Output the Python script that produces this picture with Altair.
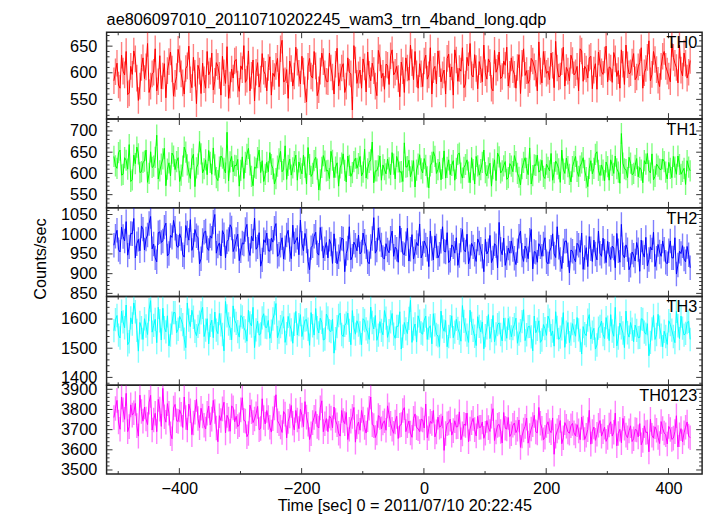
import altair as alt
import pandas as pd

# ---------------- data ----------------
T_START_A = -507.0   # sec, first bin of the "a" samples
T_START_B = -504.5   # sec, first bin of the "b" samples (interleaved)
T_STEP = 5.0         # sec between samples of one array

bands = ["TH0", "TH1", "TH2", "TH3", "TH0123"]
colors = ["#ff0000", "#00ff00", "#0000ff", "#00ffff", "#ff00ff"]
errors = [25, 25, 31, 40, 61]  # typical 1-sigma error (counts/sec)

th0_a = [585, 618, 571, 603, 640, 562, 597, 626, 548, 610,
         589, 655, 575, 601, 566, 632, 594, 553, 621, 607,
         580, 644, 598, 560, 613, 587, 629, 542, 603, 618,
         571, 596, 637, 584, 612, 558, 600, 649, 577, 590,
         625, 565, 606, 582, 641, 595, 547, 619, 588, 603,
         566, 630, 599, 612, 574, 661, 585, 552, 608, 594,
         620, 579, 603, 545, 627, 590, 613, 568, 637, 598,
         583, 609, 560, 646, 592, 617, 575, 601, 530, 624,
         596, 571, 611, 639, 585, 604, 557, 628, 599, 616,
         578, 643, 601, 589, 620, 563, 609, 652, 587, 598,
         617, 574, 633, 596, 560, 612, 641, 583, 605, 627,
         592, 558, 624, 608, 647, 579, 613, 596, 634, 570,
         606, 652, 588, 619, 566, 601, 639, 593, 614, 575,
         628, 597, 610, 561, 645, 604, 587, 622, 599, 658,
         581, 616, 603, 637, 572, 609, 594, 648, 610, 585,
         623, 600, 566, 641, 612, 590, 631, 605, 569, 618,
         597, 650, 611, 582, 626, 604, 643, 578, 615, 600,
         636, 592, 619, 571, 608, 660, 597, 625, 586, 612,
         640, 603, 583, 629, 610, 652, 594, 618, 601]
th0_b = [602, 577, 633, 596, 559, 612, 641, 590, 575, 628,
         611, 563, 598, 645, 583, 570, 617, 604, 639, 556,
         593, 626, 581, 608, 650, 572, 599, 614, 561, 587,
         640, 603, 568, 619, 595, 631, 580, 552, 607, 622,
         579, 613, 651, 588, 566, 624, 601, 573, 636, 597,
         610, 558, 593, 627, 645, 583, 606, 622, 575, 648,
         599, 631, 568, 612, 594, 640, 557, 603, 621, 584,
         637, 592, 616, 575, 609, 563, 628, 598, 651, 580,
         605, 626, 564, 597, 618, 575, 642, 590, 569, 614,
         632, 596, 612, 555, 604, 628, 586, 619, 640, 571,
         598, 622, 588, 647, 606, 579, 617, 596, 560, 635,
         611, 643, 584, 603, 572, 629, 655, 592, 608, 621,
         583, 600, 626, 571, 642, 609, 589, 622, 648, 597,
         606, 571, 634, 618, 595, 580, 627, 611, 566, 603,
         640, 599, 587, 614, 659, 592, 621, 575, 603, 633,
         596, 612, 645, 584, 607, 628, 570, 617, 639, 602,
         624, 583, 609, 638, 593, 571, 616, 652, 598, 620,
         587, 611, 647, 600, 629, 585, 640, 606, 574, 631,
         612, 594, 655, 618, 581, 605, 637, 590, 623]

th1_a = [640, 612, 655, 598, 631, 668, 585, 623, 646, 604,
         629, 579, 651, 617, 690, 606, 634, 571, 625, 648,
         609, 637, 596, 662, 620, 588, 645, 613, 675, 601,
         632, 654, 598, 620, 583, 641, 612, 697, 627, 604,
         618, 570, 639, 626, 659, 593, 615, 637, 602, 581,
         626, 649, 611, 588, 634, 604, 665, 619, 596, 628,
         584, 612, 643, 575, 621, 600, 638, 561, 614, 629,
         607, 652, 590, 625, 613, 646, 580, 619, 602, 636,
         623, 594, 657, 611, 632, 578, 606, 641, 620, 599,
         613, 649, 587, 627, 604, 672, 616, 592, 630, 608,
         644, 601, 619, 566, 626, 640, 609, 585, 653, 614,
         597, 630, 612, 648, 589, 621, 603, 637, 575, 618,
         609, 655, 594, 624, 611, 583, 639, 606, 628, 590,
         617, 642, 600, 573, 626, 612, 660, 595, 619, 603,
         631, 588, 614, 647, 602, 622, 579, 610, 636, 598,
         616, 640, 593, 625, 607, 569, 630, 612, 651, 595,
         608, 627, 584, 619, 641, 603, 694, 611, 590, 624,
         600, 635, 614, 578, 622, 606, 646, 593, 617, 609,
         628, 587, 612, 640, 598, 621, 605, 574, 615]
th1_b = [618, 649, 596, 637, 610, 581, 643, 662, 602, 626,
         655, 600, 614, 638, 587, 622, 659, 610, 594, 641,
         628, 581, 617, 650, 603, 634, 569, 622, 646, 611,
         597, 626, 660, 590, 615, 636, 601, 582, 640, 619,
         633, 607, 588, 645, 620, 571, 612, 655, 630, 598,
         604, 621, 575, 617, 652, 609, 586, 634, 613, 643,
         627, 599, 614, 661, 593, 630, 610, 585, 642, 606,
         588, 631, 615, 570, 624, 607, 641, 593, 628, 612,
         640, 603, 589, 626, 674, 606, 618, 584, 609, 634,
         597, 622, 640, 603, 581, 615, 631, 606, 568, 622,
         611, 635, 592, 618, 651, 600, 627, 612, 589, 632,
         619, 584, 645, 601, 614, 632, 578, 609, 640, 596,
         626, 602, 613, 570, 632, 648, 601, 618, 586, 623,
         604, 628, 591, 611, 637, 597, 575, 620, 643, 608,
         593, 622, 606, 584, 629, 611, 655, 600, 616, 580,
         628, 605, 617, 637, 590, 612, 599, 645, 607, 620,
         583, 616, 632, 600, 611, 577, 624, 609, 638, 597,
         619, 592, 608, 630, 647, 601, 585, 622, 610, 634,
         603, 626, 590, 615, 641, 598, 612, 630, 606]

th2_a = [972, 1010, 955, 994, 1032, 968, 1001, 940, 987, 1021,
         960, 998, 1045, 975, 930, 1006, 983, 1028, 951, 992,
         1015, 967, 989, 942, 1003, 1037, 972, 996, 925, 984,
         1008, 959, 990, 1050, 970, 945, 999, 981, 1024, 956,
         987, 933, 978, 1012, 962, 995, 1041, 968, 919, 986,
         1003, 957, 980, 1027, 949, 991, 966, 1010, 938, 975,
         992, 1036, 958, 983, 910, 971, 1005, 947, 988, 963,
         940, 975, 1001, 925, 962, 988, 951, 1019, 944, 972,
         998, 955, 982, 930, 969, 1042, 960, 987, 941, 976,
         953, 1008, 967, 929, 985, 948, 1015, 962, 937, 979,
         1026, 951, 973, 918, 964, 996, 940, 982, 957, 1004,
         934, 968, 991, 946, 1012, 955, 925, 977, 949, 988,
         962, 905, 950, 997, 940, 971, 1030, 948, 921, 965,
         983, 939, 958, 1008, 931, 960, 985, 912, 954, 976,
         944, 991, 925, 967, 950, 1019, 936, 958, 983, 902,
         957, 930, 972, 1003, 941, 918, 963, 985, 935, 952,
         990, 928, 949, 970, 915, 958, 1025, 940, 961, 921,
         947, 979, 906, 953, 992, 936, 960, 918, 974, 944,
         962, 925, 983, 940, 899, 957, 971, 930, 948]
th2_b = [995, 961, 1018, 983, 947, 1002, 1040, 976, 958, 1013,
         988, 1027, 963, 940, 1004, 979, 1018, 945, 997, 1035,
         970, 1001, 948, 1022, 985, 959, 1012, 991, 938, 1005,
         965, 996, 1031, 952, 978, 1009, 940, 987, 1016, 969,
         1000, 958, 975, 1025, 946, 983, 962, 1004, 935, 979,
         958, 990, 1015, 944, 972, 937, 998, 961, 1023, 984,
         948, 977, 1002, 931, 966, 995, 953, 1017, 940, 979,
         987, 926, 958, 943, 990, 905, 965, 935, 980, 958,
         950, 1003, 968, 925, 989, 952, 1016, 973, 937, 960,
         990, 944, 962, 1021, 951, 976, 932, 999, 956, 971,
         940, 983, 962, 1008, 935, 970, 949, 1019, 955, 928,
         973, 952, 921, 985, 960, 1000, 943, 968, 931, 978,
         944, 987, 958, 928, 976, 915, 962, 990, 940, 952,
         961, 923, 995, 947, 970, 938, 1012, 956, 929, 968,
         975, 930, 956, 1001, 941, 967, 913, 982, 948, 960,
         939, 977, 954, 911, 966, 994, 931, 950, 1008, 944,
         957, 982, 936, 965, 1002, 929, 948, 973, 910, 955,
         932, 961, 985, 942, 920, 968, 1005, 939, 955, 983,
         929, 958, 940, 991, 922, 951, 937, 969, 915]

th3_a = [1560, 1612, 1535, 1590, 1648, 1522, 1583, 1625, 1490, 1570,
         1601, 1547, 1663, 1578, 1519, 1594, 1637, 1556, 1508, 1586,
         1622, 1565, 1598, 1531, 1655, 1574, 1606, 1543, 1589, 1640,
         1562, 1515, 1596, 1624, 1550, 1580, 1491, 1611, 1568, 1645,
         1585, 1538, 1607, 1559, 1630, 1576, 1502, 1593, 1549, 1618,
         1571, 1534, 1600, 1653, 1555, 1588, 1520, 1609, 1563, 1582,
         1545, 1615, 1569, 1598, 1510, 1577, 1636, 1552, 1589, 1531,
         1604, 1557, 1483, 1574, 1620, 1540, 1586, 1561, 1629, 1548,
         1579, 1512, 1595, 1555, 1641, 1566, 1527, 1591, 1546, 1603,
         1560, 1619, 1534, 1575, 1497, 1588, 1550, 1664, 1566, 1521,
         1593, 1548, 1610, 1569, 1515, 1580, 1542, 1627, 1558, 1505,
         1574, 1536, 1599, 1552, 1646, 1563, 1520, 1585, 1541, 1608,
         1556, 1498, 1570, 1533, 1612, 1549, 1587, 1525, 1564, 1602,
         1539, 1581, 1517, 1560, 1632, 1546, 1575, 1491, 1553, 1594,
         1528, 1567, 1610, 1543, 1507, 1571, 1538, 1622, 1555, 1519,
         1584, 1541, 1563, 1480, 1550, 1596, 1532, 1568, 1511, 1575,
         1547, 1605, 1526, 1559, 1640, 1535, 1570, 1502, 1553, 1588,
         1522, 1561, 1537, 1599, 1548, 1474, 1566, 1530, 1616, 1545,
         1558, 1513, 1581, 1540, 1626, 1533, 1569, 1551, 1592]
th3_b = [1598, 1545, 1627, 1570, 1512, 1604, 1655, 1561, 1588, 1530,
         1576, 1632, 1555, 1599, 1640, 1528, 1570, 1611, 1545, 1622,
         1553, 1609, 1581, 1502, 1596, 1630, 1558, 1575, 1621, 1540,
         1601, 1578, 1536, 1562, 1619, 1547, 1660, 1583, 1529, 1595,
         1557, 1612, 1570, 1524, 1587, 1640, 1563, 1545, 1604, 1572,
         1595, 1558, 1621, 1536, 1574, 1608, 1550, 1580, 1517, 1626,
         1581, 1540, 1596, 1565, 1622, 1545, 1570, 1603, 1528, 1617,
         1560, 1599, 1533, 1612, 1547, 1578, 1620, 1512, 1570, 1594,
         1552, 1601, 1566, 1530, 1588, 1612, 1545, 1561, 1629, 1537,
         1590, 1548, 1575, 1625, 1541, 1566, 1602, 1520, 1583, 1611,
         1552, 1596, 1530, 1577, 1618, 1547, 1506, 1573, 1595, 1540,
         1611, 1555, 1568, 1524, 1592, 1545, 1630, 1561, 1509, 1575,
         1590, 1543, 1615, 1560, 1522, 1581, 1547, 1603, 1534, 1569,
         1567, 1603, 1548, 1591, 1526, 1574, 1539, 1610, 1565, 1520,
         1581, 1544, 1596, 1559, 1625, 1530, 1566, 1503, 1588, 1548,
         1560, 1605, 1527, 1574, 1543, 1615, 1555, 1497, 1569, 1593,
         1533, 1572, 1615, 1541, 1508, 1586, 1552, 1627, 1538, 1565,
         1579, 1536, 1601, 1555, 1584, 1520, 1612, 1547, 1572, 1505,
         1540, 1594, 1562, 1519, 1577, 1610, 1545, 1588, 1530]

th0123_a = [3760, 3845, 3702, 3798, 3880, 3715, 3772, 3830, 3668, 3790,
            3812, 3725, 3870, 3748, 3690, 3802, 3905, 3737, 3781, 3655,
            3825, 3741, 3776, 3862, 3698, 3794, 3733, 3850, 3710, 3768,
            3703, 3817, 3752, 3790, 3640, 3745, 3836, 3771, 3692, 3808,
            3766, 3724, 3858, 3742, 3681, 3789, 3753, 3815, 3706, 3760,
            3795, 3712, 3754, 3873, 3730, 3686, 3777, 3741, 3820, 3699,
            3748, 3801, 3715, 3762, 3651, 3735, 3790, 3708, 3843, 3729,
            3690, 3757, 3812, 3724, 3668, 3745, 3785, 3702, 3766, 3638,
            3738, 3795, 3711, 3749, 3862, 3720, 3683, 3761, 3733, 3697,
            3774, 3702, 3738, 3656, 3725, 3809, 3719, 3683, 3756, 3710,
            3690, 3748, 3827, 3706, 3731, 3664, 3762, 3718, 3597, 3729,
            3752, 3695, 3713, 3788, 3679, 3721, 3640, 3735, 3700, 3766,
            3712, 3657, 3745, 3691, 3804, 3688, 3726, 3634, 3707, 3760,
            3680, 3733, 3702, 3612, 3698, 3757, 3671, 3725, 3689, 3810,
            3707, 3662, 3739, 3685, 3578, 3694, 3745, 3660, 3717, 3682,
            3731, 3669, 3694, 3762, 3651, 3700, 3628, 3713, 3677, 3745,
            3690, 3642, 3723, 3668, 3782, 3681, 3635, 3707, 3660, 3719,
            3655, 3698, 3730, 3647, 3686, 3590, 3672, 3714, 3661, 3740,
            3683, 3629, 3701, 3658, 3769, 3675, 3640, 3712, 3668]
th0123_b = [3805, 3738, 3862, 3751, 3690, 3823, 3784, 3720, 3871, 3742,
            3753, 3836, 3698, 3781, 3850, 3716, 3764, 3829, 3680, 3807,
            3744, 3798, 3711, 3760, 3827, 3675, 3786, 3755, 3806, 3722,
            3781, 3724, 3845, 3708, 3769, 3803, 3684, 3752, 3818, 3739,
            3715, 3798, 3746, 3665, 3822, 3735, 3779, 3700, 3853, 3728,
            3760, 3688, 3807, 3744, 3713, 3790, 3659, 3768, 3732, 3795,
            3705, 3772, 3839, 3727, 3680, 3761, 3716, 3808, 3690, 3755,
            3768, 3709, 3745, 3682, 3795, 3730, 3651, 3742, 3810, 3715,
            3697, 3752, 3683, 3806, 3725, 3661, 3770, 3704, 3744, 3818,
            3731, 3682, 3766, 3721, 3795, 3690, 3743, 3662, 3778, 3705,
            3752, 3708, 3660, 3741, 3795, 3689, 3712, 3768, 3681, 3733,
            3673, 3744, 3715, 3650, 3727, 3782, 3703, 3756, 3669, 3711,
            3738, 3682, 3710, 3767, 3646, 3721, 3691, 3785, 3703, 3666,
            3722, 3685, 3748, 3669, 3716, 3633, 3703, 3771, 3684, 3732,
            3650, 3721, 3696, 3758, 3668, 3712, 3630, 3735, 3689, 3719,
            3684, 3725, 3650, 3708, 3672, 3796, 3691, 3647, 3722, 3668,
            3712, 3661, 3739, 3687, 3620, 3702, 3756, 3673, 3694, 3641,
            3701, 3664, 3625, 3719, 3688, 3751, 3658, 3697, 3631, 3706,
            3675, 3716, 3652, 3690, 3614, 3705, 3684, 3738, 3660]

series = [(th0_a, th0_b), (th1_a, th1_b), (th2_a, th2_b),
          (th3_a, th3_b), (th0123_a, th0123_b)]

# axis setup
y_domains = [[513, 676], [519, 728], [842, 1067], [1373, 1677], [3480, 3920]]
y_major = [[550, 600, 650], [550, 600, 650, 700], [850, 900, 950, 1000, 1050],
           [1400, 1500, 1600], [3500, 3600, 3700, 3800, 3900]]
y_minor_step = [10, 10, 10, 20, 20]
x_domain = [-519, 455]
x_major = [-400, -200, 0, 200, 400]
x_minor = [-500, -300, -100, 100, 300]

title_text = "ae806097010_20110710202245_wam3_trn_4band_long.qdp"
x_title = "Time [sec] 0 = 2011/07/10 20:22:45"
y_title = "Counts/sec"

FONT = "Liberation Sans"
FS = 16.5
W = 604
heights = [88, 90, 90, 90, 90]
TICK_COLOR = "#333333"

xscale = alt.Scale(domain=x_domain, nice=False, zero=False)


def panel(i):
    va, vb = series[i]
    ta = [T_START_A + T_STEP * k for k in range(len(va))]
    tb = [T_START_B + T_STEP * k for k in range(len(vb))]
    df = pd.DataFrame({"t": ta + tb, "v": va + vb}).sort_values("t").reset_index(drop=True)
    df["lo"] = df["v"] - errors[i]
    df["hi"] = df["v"] + errors[i]
    h = heights[i]
    bottom = i == len(series) - 1
    ysc = alt.Scale(domain=y_domains[i], nice=False, zero=False, clamp=True)
    yaxis = alt.Axis(values=y_major[i], ticks=False, domain=False, grid=False,
                     labelFontSize=FS, labelColor="black", labelPadding=10,
                     title=None, format="d", minExtent=52, maxExtent=52,
                     labelFont=FONT)
    if bottom:
        xaxis = alt.Axis(values=x_major, ticks=False, domain=False, grid=False,
                         labelFontSize=FS, labelColor="black", labelPadding=7,
                         title=x_title, titleFontSize=FS, titleFontWeight="normal",
                         titleColor="black", titlePadding=1, labelFont=FONT,
                         titleFont=FONT, format="d")
    else:
        xaxis = None
    X = alt.X("t:Q", scale=xscale, axis=xaxis)
    base = alt.Chart(df)
    err = base.mark_rule(color=colors[i], opacity=0.5, strokeWidth=1.4, clip=True).encode(
        x=X, y=alt.Y("lo:Q", scale=ysc, axis=yaxis), y2="hi:Q")
    line = base.mark_line(color=colors[i], strokeWidth=1, clip=True).encode(
        x=X, y=alt.Y("v:Q", scale=ysc, axis=yaxis))

    lo_d, hi_d = y_domains[i]
    step = y_minor_step[i]
    first = (lo_d // step + 1) * step
    minors = [v for v in range(first, hi_d, step) if v not in y_major[i]]
    ymaj_df = pd.DataFrame({"yv": y_major[i]})
    ymin_df = pd.DataFrame({"yv": minors})
    layers = [err, line]
    for d, L in ((ymaj_df, 6), (ymin_df, 3)):
        Y = alt.Y("yv:Q", scale=ysc, axis=yaxis)
        layers.append(alt.Chart(d).mark_rule(color=TICK_COLOR, strokeWidth=1).encode(
            y=Y, x=alt.value(0), x2=alt.value(L)))
        layers.append(alt.Chart(d).mark_rule(color=TICK_COLOR, strokeWidth=1).encode(
            y=Y, x=alt.value(W - L), x2=alt.value(W)))
    for vals_x, L in ((x_major, 6), (x_minor, 3)):
        d = pd.DataFrame({"xv": vals_x})
        XX = alt.X("xv:Q", scale=xscale, axis=xaxis)
        layers.append(alt.Chart(d).mark_rule(color=TICK_COLOR, strokeWidth=1).encode(
            x=XX, y=alt.value(0), y2=alt.value(L)))
        layers.append(alt.Chart(d).mark_rule(color=TICK_COLOR, strokeWidth=1).encode(
            x=XX, y=alt.value(h - L), y2=alt.value(h)))

    lab = alt.Chart(pd.DataFrame({"label": [bands[i]]})).mark_text(
        align="right", baseline="middle", fontSize=16.5, font=FONT, color="black").encode(
        text="label:N", x=alt.value(W - 5), y=alt.value(11))
    layers.append(lab)
    if i == 0:
        ttl = alt.Chart(pd.DataFrame({"label": [title_text]})).mark_text(
            align="left", baseline="alphabetic", fontSize=FS, font=FONT, color="black").encode(
            text="label:N", x=alt.value(0), y=alt.value(-7))
        layers.append(ttl)
    if i == 2:
        yt = alt.Chart(pd.DataFrame({"label": [y_title]})).mark_text(
            align="center", baseline="middle", fontSize=FS, font=FONT, color="black",
            angle=270).encode(text="label:N", x=alt.value(-66), y=alt.value(52))
        layers.append(yt)
    return alt.layer(*layers).properties(width=W, height=h)


chart = alt.vconcat(*[panel(i) for i in range(len(series))], spacing=0).configure_view(
    stroke="#222222", strokeWidth=1.5).properties(
    bounds="flush",
    padding={"left": 25, "top": 0, "right": 5, "bottom": 2}, background="white")

chart.save("out.html", embed_options={"renderer": "svg", "actions": False})
